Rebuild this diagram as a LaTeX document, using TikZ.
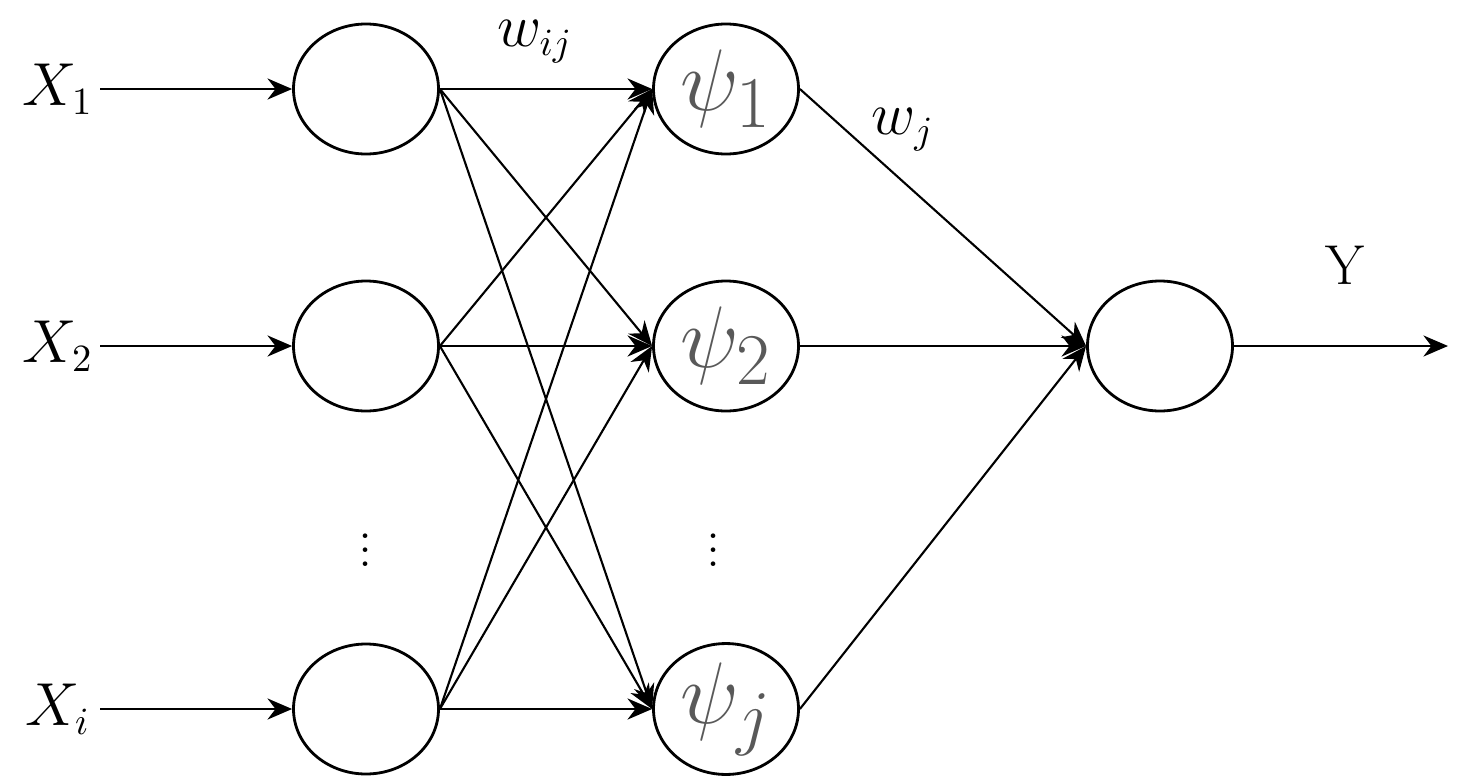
\documentclass[tikz,border=0pt]{standalone}
\usepackage{amsmath}
\usepackage{xcolor}
\usetikzlibrary{shapes.geometric,arrows.meta}
\tikzset{
    every node/.style={font=\fontsize{16}{18}\selectfont},
    neuron/.style={draw, ellipse, thick, minimum width=1.45cm, minimum height=1.3cm, inner sep=0pt},
    psi/.style={text=black!65, font=\fontsize{30}{32}\selectfont},
    link/.style={-{Stealth[length=7pt,width=6pt]}, semithick}
}
\begin{document}
\begin{tikzpicture}[yscale=-1]
        \useasboundingbox (0,0) rectangle (14.6,7.82);
        \node[neuron] (in1) at (3.66,0.89) {};
        \node[neuron] (in2) at (3.66,3.46) {};
        \node[neuron] (ini) at (3.66,7.09) {};
        \node[neuron, psi] (h1) at (7.26,0.89) {$\psi_1$};
        \node[neuron, psi] (h2) at (7.26,3.46) {$\psi_2$};
        \node[neuron, psi] (hj) at (7.26,7.09) {$\psi_j$};
        \node[neuron] (out) at (11.60,3.46) {};
        
        \node (x1) at (0.58,0.89) {$X_1$};
        \node (x2) at (0.58,3.46) {$X_2$};
        \node (xi) at (0.58,7.09) {$X_i$};
        \node (y) at (13.45,2.65) {Y};
        \coordinate (yend) at (14.48,3.46);
        \node (wij) at (5.35,0.42) {$w_{ij}$};
        \node (wj) at (9.03,1.30) {$w_j$};
        \node (d1) at (3.66,5.40) {$\vdots$};
        \node (d2) at (7.14,5.40) {$\vdots$};
        
        \draw[link] (1.00,0.89) -- (in1.west);
        \draw[link] (1.00,3.46) -- (in2.west);
        \draw[link] (1.00,7.09) -- (ini.west);
        \foreach \a in {in1,in2,ini}
            \foreach \b in {h1,h2,hj}
                \draw[link] (\a.east) -- (\b.west);
        \foreach \b in {h1,h2,hj}
            \draw[link] (\b.east) -- (out.west);
        \draw[link] (out.east) -- (yend);
    \end{tikzpicture}
\end{document}
